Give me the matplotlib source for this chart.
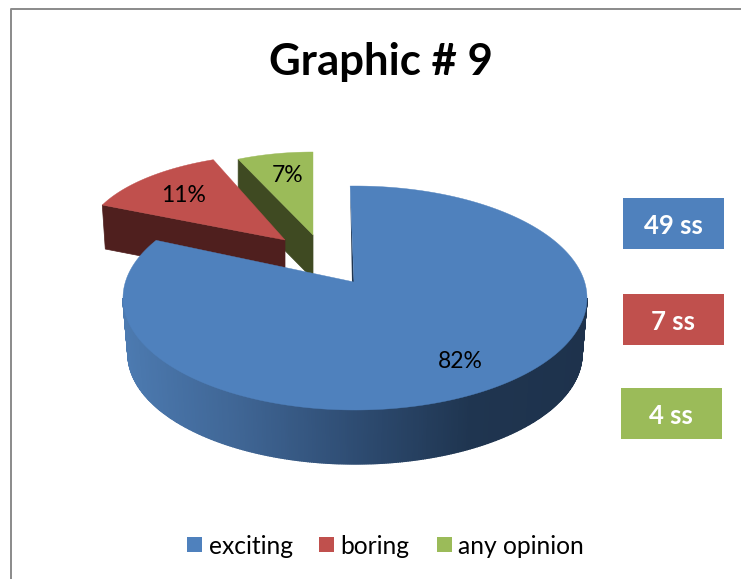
import numpy as np
import matplotlib
matplotlib.use("Agg")
import matplotlib.pyplot as plt
from matplotlib.colors import LinearSegmentedColormap
from matplotlib.patches import Rectangle

categorias = ["exciting", "boring", "any opinion"]
valores = [49, 7, 4]
rotulos_pct = ["82%", "11%", "7%"]
rotulos_caixa = ["49 ss", "7 ss", "4 ss"]

COR_FACE = ["#4F81BD", "#C0504D", "#9BBB59"]
COR_PAREDE = [None, "#4F1F1E", "#3F4A22"]
FONTE = "Lato"

fig = plt.figure(figsize=(7.41, 5.79), dpi=100)
ax = fig.add_axes([0, 0, 1, 1])
ax.set_xlim(0, 741)
ax.set_ylim(579, 0)
ax.axis("off")

# moldura do grafico (so esquerda e topo aparecem no recorte)
ax.plot([11, 11, 741], [579, 9, 9], color="#8a8a8a", lw=1.4)

# angulos das fatias, sentido horario a partir do topo
fim = np.cumsum(valores) / np.sum(valores) * 360
inicio = np.concatenate([[0], fim[:-1]])


def borda(cx, cy, rx, ry, a, b, n=120):
    t = np.radians(np.linspace(a, b, n))
    return cx + rx * np.sin(t), cy - ry * np.cos(t)


# fatias destacadas: centro, raios e ajuste de perspectiva no fim; verde primeiro
destaque = {
    2: (313, 235, 184, 83, 0),
    1: (285, 240, 200, 86, 3),
}
PROF = 44
for i in [2, 1]:
    cx, cy, rx, ry, ajuste = destaque[i]
    x, y = borda(cx, cy, rx, ry, inicio[i], fim[i] + ajuste)
    if i == 1:
        px, py = [x[0], cx, cx, x[0] + 3], [y[0], cy, cy + PROF, y[0] + PROF]
    else:
        px, py = [x[0], cx, cx, x[0]], [y[0], cy, cy + PROF, y[0] + PROF]
    ax.fill(px, py, color=COR_PAREDE[i], lw=0.5, zorder=2 + (2 - i) * 2)
    ax.fill(np.r_[cx, x], np.r_[cy, y], color=COR_FACE[i], lw=0.3, zorder=3 + (2 - i) * 2)

# parede lateral da fatia grande, com degrade
degrade = LinearSegmentedColormap.from_list(
    "parede", ["#4C7AB0", "#3F6594", "#2E4C72", "#1F3550", "#1E324C"]
)
angulos = np.linspace(90, 270, 361)
for a, b in zip(angulos[:-1], angulos[1:]):
    x1, y1 = borda(355, 298, 232, 112, a, b, 2)
    x2, y2 = borda(355, 354, 227, 110, a, b, 2)
    meio = (x1.mean() - 123) / 464
    ax.fill(np.r_[x1, x2[::-1]], np.r_[y1, y2[::-1]],
            color=degrade(meio), lw=1.0, zorder=8)

# face da fatia grande; a perspectiva desloca um pouco as pontas
x, y = borda(355, 298, 232, 112, inicio[0] - 1.2, fim[0] + 7, 300)
ax.fill(np.r_[354, x], np.r_[282, y], color=COR_FACE[0], lw=0.3, zorder=9)
ax.fill([x[0], 354, 352], [y[0], 282, 282], color="#1F3550", lw=0, zorder=8.5)

# rotulos de percentual
for txt, px, py in zip(rotulos_pct, [460, 184, 288], [362, 195, 175]):
    ax.text(px, py, txt, ha="center", va="center", fontsize=16.5,
            family=FONTE, color="black", zorder=12)

ax.text(381, 62, "Graphic # 9", ha="center", va="center", fontsize=31.5,
        family=FONTE, weight="bold", color="black")

# caixas de texto a direita
caixa_x = [623, 623, 621]
caixa_y = [198, 294, 388]
for txt, cor, bx, by in zip(rotulos_caixa, COR_FACE, caixa_x, caixa_y):
    ax.add_patch(Rectangle((bx, by), 101, 51, color=cor, lw=0))
    ax.text(bx + 50, by + 27.5, txt, ha="center", va="center", fontsize=18.5,
            family=FONTE, weight="bold", color="white")

# legenda
leg_x = [187, 319, 437]
txt_x = [209, 340, 458]
for nome, cor, lx, tx in zip(categorias, COR_FACE, leg_x, txt_x):
    ax.add_patch(Rectangle((lx, 537), 15, 15, color=cor, lw=0))
    ax.text(tx, 546, nome, ha="left", va="center", fontsize=17.7,
            family=FONTE, color="black")

fig.savefig("out.png", dpi=100)
plt.close(fig)
